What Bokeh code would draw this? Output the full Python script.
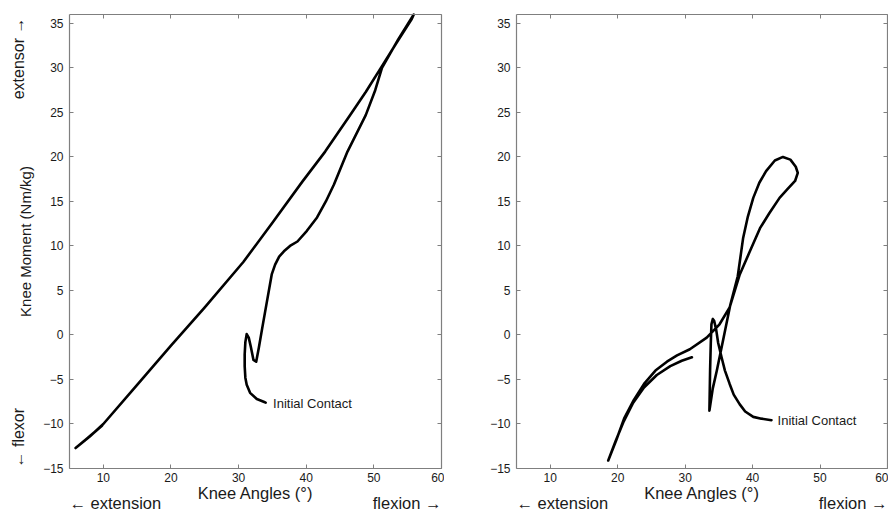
import math
from bokeh.plotting import figure
from bokeh.models import LinearAxis, FixedTicker, Label, Range1d
from bokeh.layouts import row
from bokeh.embed import file_html
from bokeh.resources import INLINE

FONT = "Liberation Sans"

# ---- data ----
x_ticks = [10, 20, 30, 40, 50, 60]
y_ticks = [-15, -10, -5, 0, 5, 10, 15, 20, 25, 30, 35]
x_lim = (5, 60)
y_lim = (-15, 36)

left_angle = [34.0, 33.7, 32.7, 31.7, 31.2, 31.0, 30.9, 30.9, 31.0, 31.2, 31.5,
              31.8, 32.2, 32.6, 33.0, 33.5, 34.2, 34.9, 35.4, 36.0, 36.7, 37.6,
              38.7, 40.1, 41.6, 42.9, 44.1, 46.1, 48.8, 50.2, 51.2, 53.6, 55.9,
              55.6, 53.5, 51.2, 48.8, 46.5, 42.8, 39.4, 35.0, 30.7, 25.0, 20.0,
              15.0, 10.0, 8.0, 5.9, 7.5, 9.8]
left_moment = [-7.6, -7.5, -7.2, -6.5, -5.6, -4.8, -3.5, -2.2, -0.8, 0.1, -0.3,
               -1.3, -2.8, -3.0, -1.4, 0.8, 3.8, 6.8, 7.9, 8.8, 9.4, 10.0,
               10.5, 11.7, 13.2, 15.0, 16.9, 20.6, 24.7, 27.5, 30.0, 33.2, 36.0,
               35.5, 33.0, 30.2, 27.3, 24.7, 20.6, 17.2, 12.6, 8.2, 3.1, -1.2,
               -5.6, -10.0, -11.4, -12.7, -11.7, -10.2]

right_angle = [42.8, 41.3, 40.1, 38.9, 38.1, 37.2, 36.6, 35.9, 35.4, 34.9, 34.6,
               34.3, 34.1, 33.9, 33.8, 33.7, 33.6, 34.1, 34.7, 35.7, 36.7, 37.8,
               38.6, 39.3, 40.1, 41.0, 42.0, 43.3, 44.5, 45.6, 46.4, 46.7, 46.3,
               45.2, 44.0, 42.5, 41.1, 39.6, 38.1, 36.6, 35.1, 33.2, 30.7, 28.8,
               27.3, 25.6, 24.0, 22.4, 21.0, 19.8, 18.6, 19.7, 20.9, 22.3, 23.9,
               25.8, 27.8, 29.5, 31.0]
right_moment = [-9.57, -9.4, -9.2, -8.6, -7.8, -6.7, -5.5, -4.0, -2.5, -0.9, 0.6,
                1.6, 1.8, 1.2, -1.0, -4.0, -8.5, -6.0, -4.0, -0.3, 3.4, 6.6,
                10.9, 13.3, 15.4, 17.1, 18.4, 19.6, 20.0, 19.7, 18.9, 18.2, 17.3,
                16.4, 15.4, 13.7, 12.0, 9.4, 6.8, 3.1, 1.2, -0.3, -1.6, -2.3,
                -3.0, -4.0, -5.4, -7.3, -9.3, -11.8, -14.1, -11.9, -9.7, -7.6, -5.9,
                -4.5, -3.5, -2.9, -2.5]

ic_text = "Initial Contact"
left_ic = (35.1, -7.7)
right_ic = (43.7, -9.64)

x_label = "Knee Angles (°)"
y_label = "Knee Moment (Nm/kg)"
ext_text = "\u2190 extension"
flex_text = "flexion \u2192"
extensor_text = "extensor \u2192"
flexor_text = "\u2190 flexor"

GRAY = "#7f7f7f"
TXT = "#1a1a1a"
H = 513


def tick_labels(ticks):
    return {t: str(t).replace("-", "\u2212") for t in ticks}


def make(width, frame_l, frame_r, angle, moment, ic_xy, show_ylabel):
    # frame (box) position in canvas pixels -> ranges spanning the whole canvas
    frame_t, frame_b = 14, 468
    sx = (frame_r - frame_l) / (x_lim[1] - x_lim[0])
    sy = (frame_b - frame_t) / (y_lim[1] - y_lim[0])
    x0 = x_lim[0] - frame_l / sx
    x1 = x_lim[1] + (width - frame_r) / sx
    y1 = y_lim[1] + frame_t / sy
    y0 = y_lim[0] - (H - frame_b) / sy

    def dx(px):
        return x0 + px / sx

    def dy(py):
        return y1 - py / sy

    p = figure(width=width, height=H, x_range=Range1d(x0, x1), y_range=Range1d(y0, y1),
               output_backend="svg", toolbar_location=None, title=None,
               x_axis_location=None, y_axis_location=None, min_border=0,
               outline_line_color=None)
    p.grid.visible = False
    p.background_fill_color = "white"
    p.border_fill_color = "white"

    def add_axis(side, loc, ticks, bounds, show):
        ax = LinearAxis(fixed_location=loc, bounds=bounds, ticker=FixedTicker(ticks=ticks))
        ax.axis_line_color = GRAY
        ax.axis_line_width = 1.2
        ax.major_tick_line_color = GRAY
        ax.major_tick_in = 4
        ax.major_tick_out = 0
        ax.minor_tick_line_color = None
        if show:
            ax.major_label_overrides = tick_labels(ticks)
            ax.major_label_text_font = FONT
            ax.major_label_text_font_size = "12px"
            ax.major_label_text_color = TXT
            ax.major_label_standoff = 6 if side == "left" else 4
        else:
            ax.major_label_text_color = None
        p.add_layout(ax, side)

    add_axis("below", y_lim[0], x_ticks, x_lim, True)
    add_axis("left", x_lim[0], y_ticks, y_lim, True)
    add_axis("above", y_lim[1], x_ticks, x_lim, False)
    add_axis("right", x_lim[1], y_ticks, y_lim, False)

    p.line(angle, moment, line_width=2.6, line_color="black",
           line_join="round", line_cap="round")

    def lab(x, y, text, size, align="left", angle=0.0):
        p.add_layout(Label(x=x, y=y, text=text, text_font=FONT, text_font_size=size,
                           text_color=TXT, text_baseline="middle", text_align=align,
                           angle=angle))

    lab(ic_xy[0], ic_xy[1], ic_text, "13px")
    lab((x_lim[0] + x_lim[1]) / 2, dy(492), x_label, "16.5px", "center")
    lab(x_lim[0], dy(502), ext_text, "16.5px", "left")
    lab(x_lim[1], dy(502), flex_text, "16.5px", "right")
    if show_ylabel:
        lab(dx(25), (y_lim[0] + y_lim[1]) / 2, y_label, "15px", "center", math.pi / 2)
        lab(dx(18), dy(17), extensor_text, "16px", "right", math.pi / 2)
        lab(dx(18), dy(467), flexor_text, "16px", "left", math.pi / 2)
    return p


p1 = make(444, 69, 441, left_angle, left_moment, left_ic, True)
p2 = make(444, 72, 443, right_angle, right_moment, right_ic, False)
layout = row(p1, p2)

open("out.html", "w").write(file_html(layout, INLINE))
